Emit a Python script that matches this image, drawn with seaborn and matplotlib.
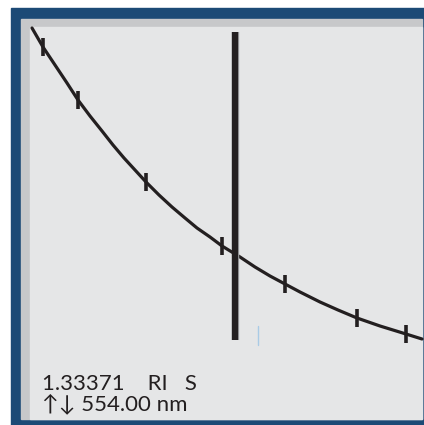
import matplotlib
matplotlib.use("Agg")
import matplotlib.pyplot as plt
import seaborn as sns
import pandas as pd
from matplotlib.patches import Rectangle

# dispersion curve (plot units, y grows downward)
curve_x = [32, 43, 55, 67, 78, 90, 102, 113, 124, 135, 146, 159, 172, 185,
           197, 210, 222, 240, 255, 270, 285, 300, 320, 338, 357, 380, 406, 422]
curve_y = [28, 47, 65, 83, 100, 116, 131, 145, 158, 170, 182, 195, 207, 218,
           228, 237, 246, 257, 267, 276, 284, 292, 302, 310, 318, 326, 334, 339]

# tick marks on the curve
tick_x = [43, 78, 146, 222, 285, 357, 406]
tick_y = [47, 100, 182, 246, 284, 318, 334]

# cursor line
cursor_x = 235
cursor_top, cursor_bottom = 32, 340

ri_text = "1.33371    RI   S"
wl_text = "\u2191\u2193 554.00 nm"

sns.set_theme(style="white")
plt.rcParams['font.family'] = ['Lato', 'DejaVu Sans']

fig = plt.figure(figsize=(4.24, 4.25), dpi=100)
ax = fig.add_axes([0, 0, 1, 1])
ax.set_xlim(0, 424)
ax.set_ylim(425, 0)
ax.axis("off")

# frame: blue border, grey inner band, light panel
ax.add_patch(Rectangle((11, 8), 413, 417, color="#1c4a76", zorder=0))
ax.add_patch(Rectangle((21, 19), 401, 400, color="#c7c8ca", zorder=0))
ax.add_patch(Rectangle((30, 27), 392, 392, color="#e5e6e7", zorder=0))

curve = pd.DataFrame({"x": curve_x, "y": curve_y})
sns.lineplot(data=curve, x="x", y="y", ax=ax, color="#231f20", linewidth=2.3,
             sort=False, zorder=3)

ticks = pd.DataFrame({"x": tick_x, "y": tick_y})
sns.scatterplot(data=ticks, x="x", y="y", ax=ax, marker="|", s=150,
                color="#231f20", linewidth=2.6, zorder=4)

ax.plot([cursor_x + 1, cursor_x + 1], [cursor_top, cursor_bottom],
        color="#a7a9ac", linewidth=4.6, solid_capstyle="butt", zorder=4)
ax.plot([cursor_x, cursor_x], [cursor_top, cursor_bottom], color="#231f20",
        linewidth=4.6, solid_capstyle="butt", zorder=5)
ax.plot([258, 258], [326, 345], color="#a9cbe6", linewidth=1, zorder=4)

# readout, two lines in one text block
ax.text(42, 410, ri_text + "\n" + wl_text, fontsize=16, color="#231f20",
        va="baseline", ha="left", linespacing=0.95)

ax.set_xlabel("")
ax.set_ylabel("")
fig.savefig("out.png", dpi=100)
